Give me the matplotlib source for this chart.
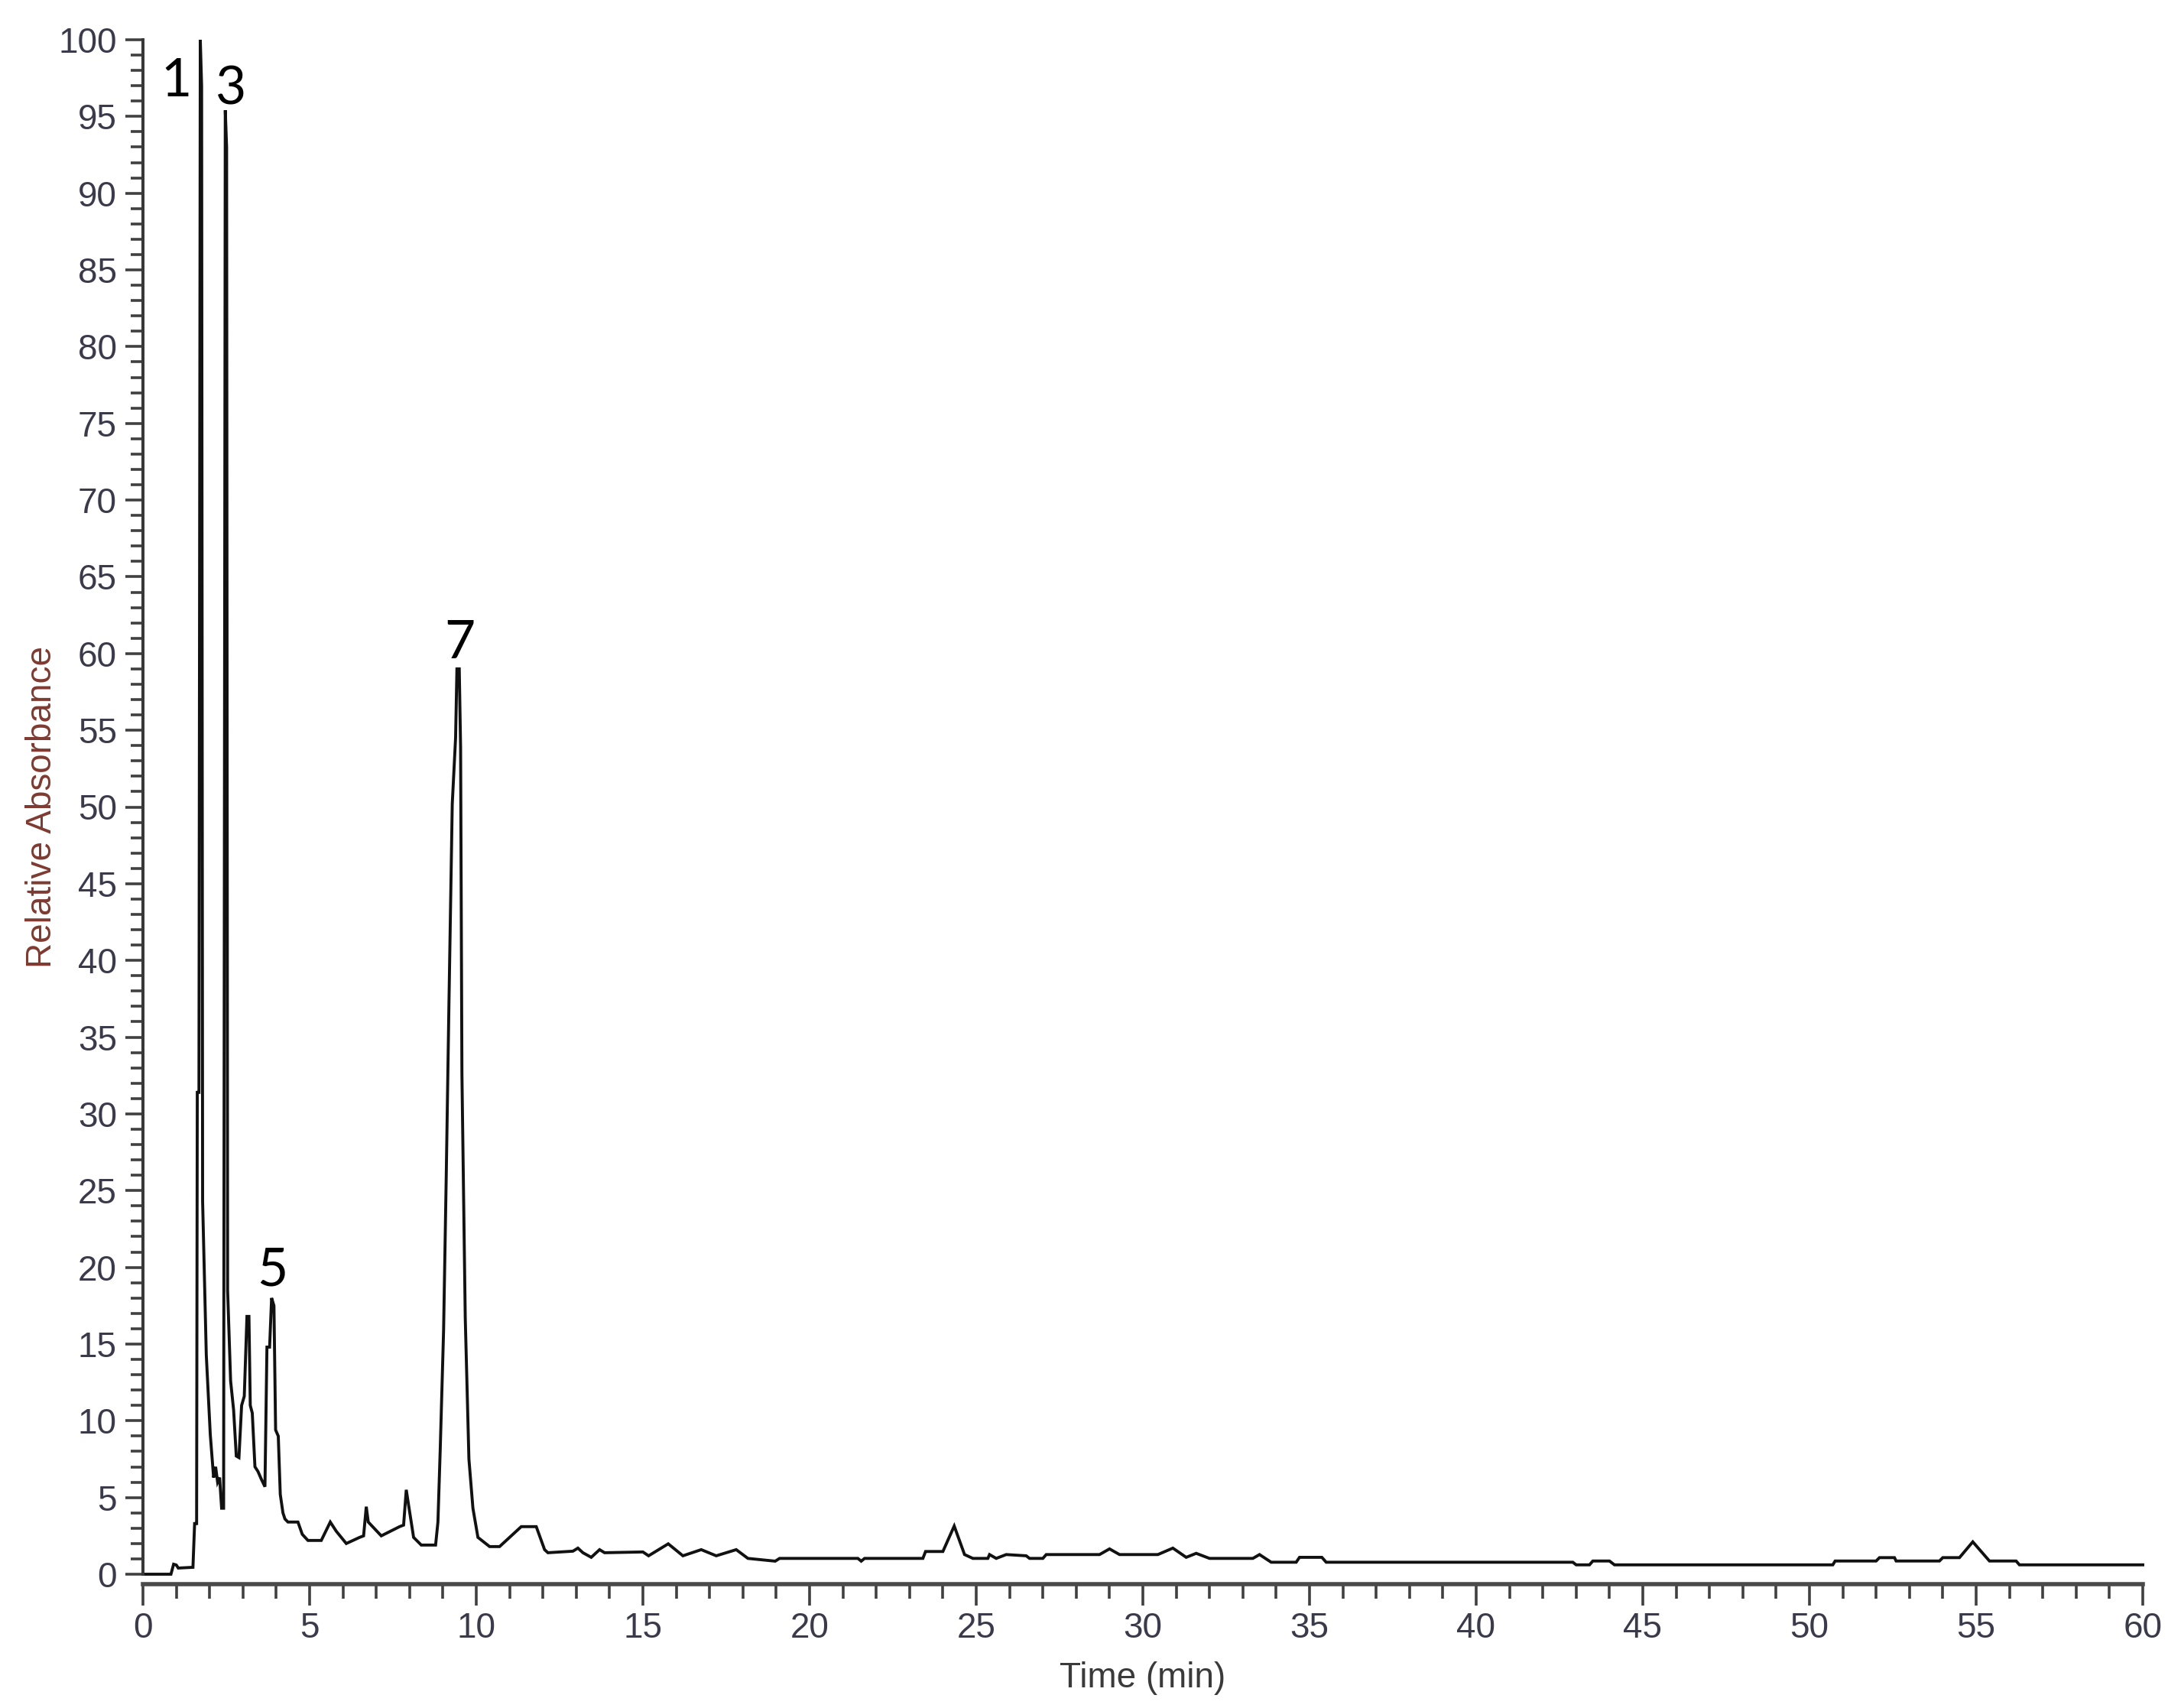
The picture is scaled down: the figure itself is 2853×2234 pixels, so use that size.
import matplotlib
matplotlib.use("Agg")
import matplotlib.pyplot as plt
from matplotlib.ticker import MultipleLocator
from matplotlib import font_manager

# ---- data ----
time_min = [
    0.00, 0.84, 0.92, 1.00, 1.06, 1.50, 1.55, 1.61, 1.63, 1.68, 1.72, 1.76,
    1.79, 1.90, 2.02, 2.12, 2.18, 2.24, 2.30, 2.36, 2.42, 2.47, 2.51, 2.54,
    2.63, 2.72, 2.80, 2.88, 2.96, 3.04, 3.12, 3.18, 3.22, 3.28, 3.36, 3.45,
    3.55, 3.66, 3.72, 3.80, 3.86, 3.93, 3.98, 4.06, 4.12, 4.20, 4.26, 4.35,
    4.65, 4.78, 4.95, 5.35, 5.62, 5.80, 6.10, 6.50, 6.62, 6.70, 6.76, 7.15,
    7.70, 7.82, 7.90, 7.97, 8.12, 8.35, 8.78, 8.85, 8.92, 9.02, 9.10, 9.18,
    9.28, 9.38, 9.42, 9.49, 9.53, 9.57, 9.67, 9.78, 9.90, 10.05, 10.40, 10.70,
    11.00, 11.35, 11.80, 12.05, 12.15, 12.90, 13.05, 13.20, 13.45, 13.70, 13.85,
    15.00, 15.17, 15.76, 16.20, 16.75, 17.20, 17.80, 18.15, 18.97, 19.10, 21.45,
    21.55, 21.65, 23.40, 23.48, 24.00, 24.34, 24.65, 24.90, 25.35, 25.40, 25.60,
    25.90, 26.50, 26.60, 27.00, 27.10, 28.70, 29.00, 29.30, 30.45, 30.90, 31.30,
    31.60, 32.00, 33.30, 33.50, 33.85, 34.60, 34.70, 35.37, 35.50, 42.90, 43.00,
    43.40, 43.50, 44.00, 44.15, 50.70, 50.77, 52.00, 52.10, 52.55, 52.60, 53.90,
    54.00, 54.50, 54.90, 55.40, 56.20, 56.30, 60.00,
]
rel_absorbance = [
    0.0, 0.0, 0.65, 0.6, 0.4, 0.45, 3.3, 3.3, 31.4, 31.4, 100.0, 97.0,
    24.3, 14.3, 9.1, 6.3, 7.0, 6.0, 6.3, 4.3, 4.3, 95.4, 93.0, 18.5,
    12.6, 10.7, 7.7, 7.6, 11.0, 11.6, 16.8, 16.8, 11.0, 10.5, 7.0, 6.7,
    6.2, 5.7, 14.8, 14.8, 18.0, 17.5, 9.4, 9.0, 5.2, 4.0, 3.6, 3.4,
    3.4, 2.6, 2.2, 2.2, 3.4, 2.8, 2.0, 2.4, 2.5, 4.4, 3.4, 2.5,
    3.1, 3.2, 5.5, 4.5, 2.4, 1.9, 1.9, 3.4, 8.2, 15.9, 26.0, 37.1,
    50.2, 54.5, 59.0, 59.0, 53.9, 32.6, 16.7, 7.5, 4.3, 2.4, 1.8, 1.8,
    2.4, 3.1, 3.1, 1.6, 1.4, 1.5, 1.7, 1.4, 1.1, 1.6, 1.4,
    1.45, 1.2, 1.98, 1.2, 1.6, 1.2, 1.6, 1.03, 0.85, 1.03, 1.03,
    0.85, 1.03, 1.03, 1.48, 1.48, 3.14, 1.28, 1.03, 1.03, 1.28, 1.03,
    1.28, 1.2, 1.03, 1.03, 1.28, 1.28, 1.65, 1.28, 1.28, 1.7, 1.1,
    1.36, 1.03, 1.03, 1.28, 0.78, 0.78, 1.1, 1.1, 0.78, 0.78, 0.61,
    0.61, 0.86, 0.86, 0.61, 0.61, 0.86, 0.86, 1.08, 1.08, 0.86, 0.86,
    1.08, 1.08, 2.11, 0.86, 0.86, 0.61, 0.61,
]
peak_labels = ["1", "3", "5", "7"]
x_ticks = list(range(0, 61, 5))
y_ticks = list(range(0, 101, 5))

# label anchor points (data coordinates, baseline)
peak_label_t = [0.99, 2.63, 3.89, 9.50]
peak_label_v = [96.3, 95.8, 18.8, 59.7]

# ---- fonts ----
available = {f.name for f in font_manager.fontManager.ttflist}
tick_font = "Liberation Sans" if "Liberation Sans" in available else "DejaVu Sans"
peak_font = "Lato" if "Lato" in available else "DejaVu Sans"

W, H = 2853, 2234
fig = plt.figure(figsize=(W / 100, H / 100), dpi=100)
x0, x1 = 187, 2803
y0, y1 = 2059, 52
ax = fig.add_axes([x0 / W, 1 - y0 / H, (x1 - x0) / W, (y0 - y1) / H])

ax.plot(time_min, rel_absorbance, color="#111111", lw=2.8, clip_on=False,
        solid_joinstyle="miter")

ax.set_xlim(0, 60)
ax.set_ylim(0, 100)

for s in ("top", "right"):
    ax.spines[s].set_visible(False)
ax.spines["left"].set_linewidth(2.9)
ax.spines["left"].set_color("#383838")
ax.spines["bottom"].set_linewidth(4.0)
ax.spines["bottom"].set_color("#4a4a4a")
ax.spines["bottom"].set_position(("outward", 9.4))

ax.set_xticks(x_ticks)
ax.set_yticks(y_ticks)
ax.xaxis.set_minor_locator(MultipleLocator(1))
ax.yaxis.set_minor_locator(MultipleLocator(1))

tick_color = "#3a3a4a"
ax.tick_params(axis="x", which="major", direction="out", length=20, width=2.6,
               color="#404040", pad=6, labelsize=33, labelcolor=tick_color)
ax.tick_params(axis="x", which="minor", direction="out", length=14, width=2.6,
               color="#404040")
ax.tick_params(axis="y", which="major", direction="out", length=16.5, width=2.6,
               color="#404040", pad=8, labelsize=33, labelcolor=tick_color)
ax.tick_params(axis="y", which="minor", direction="out", length=11.5, width=2.6,
               color="#404040")
for lab in ax.get_xticklabels() + ax.get_yticklabels():
    lab.set_fontfamily(tick_font)

ax.set_ylabel("Relative Absorbance", fontsize=33, color="#7e3a30",
              family=tick_font)
ax.yaxis.set_label_coords(-0.042, 0.5)
ax.set_xlabel("Time (min)", fontsize=33, color="#3a3a3a", family=tick_font)
ax.xaxis.set_label_coords(0.5, -0.057)

for lab, t, v in zip(peak_labels, peak_label_t, peak_label_v):
    ax.text(t, v, lab, ha="center", va="baseline", fontsize=50,
            family=peak_font, color="black")

fig.savefig("out.png", dpi=100)
